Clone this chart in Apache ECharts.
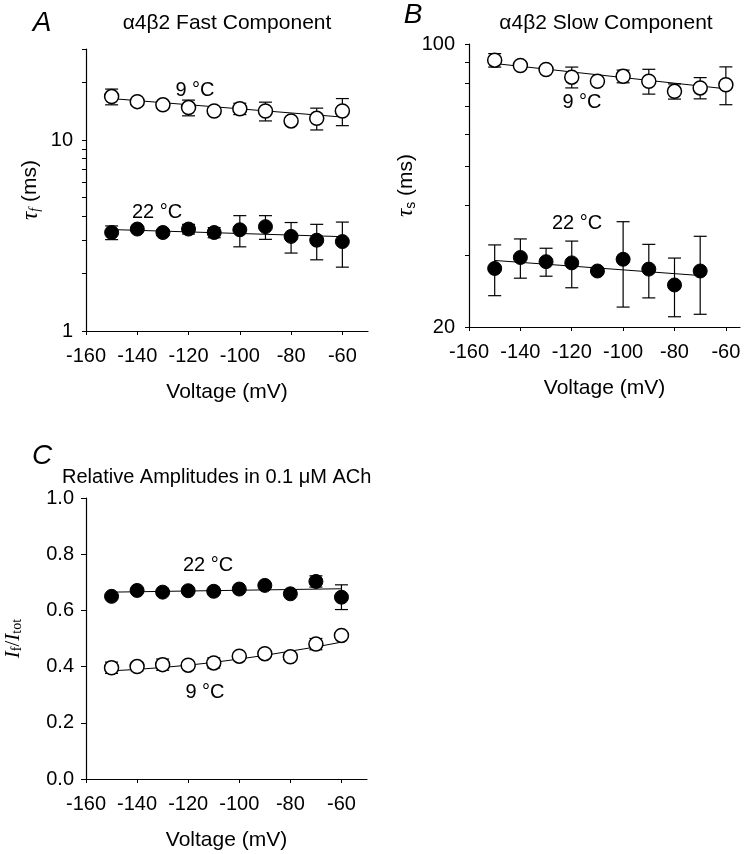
<!DOCTYPE html>
<html>
<head>
<meta charset="utf-8">
<script src="https://cdn.jsdelivr.net/npm/echarts@6/dist/echarts.min.js"></script>
<style>
  html, body { margin: 0; padding: 0; background: #fff; }
  #main { width: 745px; height: 854px; }
</style>
</head>
<body>
<div id="main"></div>
<script>
// membrane voltage (mV) of each point
const voltage = [-150, -140, -130, -120, -110, -100, -90, -80, -70, -60];
const voltage22s = [-150, -140, -130, -120, -110, -100, -90, -80, -70];

// A: fast time constant (ms) and error
const fastTau9 = [16.9, 15.9, 15.3, 14.8, 14.2, 14.6, 14.2, 12.6, 13.0, 14.2];
const fastErr9 = [1.6, 0, 0, 1.4, 0, 1.0, 1.6, 0, 1.7, 2.3];
const fastTau22 = [3.28, 3.42, 3.28, 3.42, 3.28, 3.39, 3.52, 3.13, 2.99, 2.94];
const fastErr22 = [0.27, 0.1, 0.12, 0.2, 0.2, 0.63, 0.5, 0.57, 0.63, 0.78];

// B: slow time constant (ms) and error
const slowTau9 = [91.2, 88.5, 86.5, 82.8, 80.9, 83.2, 80.9, 76.4, 77.9, 79.3];
const slowErr9 = [3.5, 2, 0, 4.9, 0, 3, 5.7, 3.3, 4.7, 8.5];
const slowTau22 = [27.9, 29.7, 29.0, 28.8, 27.5, 29.4, 27.8, 25.4, 27.5];
const slowErr22 = [4, 3.3, 2.3, 3.8, 0, 7, 4.2, 4.2, 6];

// C: relative amplitude If/Itot and error
const ampl22 = [0.65, 0.671, 0.665, 0.67, 0.668, 0.676, 0.689, 0.659, 0.703, 0.647];
const amplErr22 = [0, 0, 0, 0, 0, 0, 0, 0, 0.02, 0.044];
const ampl9 = [0.396, 0.40, 0.407, 0.405, 0.413, 0.437, 0.446, 0.435, 0.48, 0.511];
const amplErr9 = [0.02, 0.015, 0.02, 0.01, 0.018, 0, 0, 0.012, 0.02, 0];

// fitted lines
const fitVoltage = [-150, -60];
const fitVoltage22s = [-150, -70];
const fastFit9 = [16.5, 13.2];
const fastFit22 = [3.40, 3.12];
const slowFit9 = [89.5, 77.5];
const slowFit22 = [29.2, 26.8];
const amplFit22 = [0.665, 0.677];
const amplFit9 = [0.385, 0.39, 0.397, 0.405, 0.415, 0.427, 0.44, 0.455, 0.47, 0.487];

// ticks
const xTicks = [-160, -140, -120, -100, -80, -60];
const aLabels = [1, 10];
const aTicks = [1, 2, 3, 4, 5, 6, 7, 8, 9, 10, 20, 30];
const bLabels = [20, 100];
const bTicks = [20, 30, 40, 50, 60, 70, 80, 90, 100];

const FONT = 'Liberation Sans, Arial, sans-serif';
const SERIF = 'Liberation Serif, Times New Roman, serif';

let chart = echarts.init(document.getElementById('main'), null, { renderer: 'canvas' });

function zip(xs, ys, es) {
  return xs.map((x, i) => es ? [x, ys[i], es[i]] : [x, ys[i]]);
}

function errRender(params, api) {
  const x = api.value(0), y = api.value(1), e = api.value(2);
  if (!e) return { type: 'group', children: [] };
  const hi = api.coord([x, y + e]);
  const lo = api.coord([x, y - e]);
  const w = 6.5;
  const style = { stroke: '#000', lineWidth: 1.2 };
  return {
    type: 'group',
    children: [
      { type: 'line', shape: { x1: hi[0], y1: hi[1], x2: lo[0], y2: lo[1] }, style: style },
      { type: 'line', shape: { x1: hi[0] - w, y1: hi[1], x2: hi[0] + w, y2: hi[1] }, style: style },
      { type: 'line', shape: { x1: lo[0] - w, y1: lo[1], x2: lo[0] + w, y2: lo[1] }, style: style }
    ]
  };
}

function group(idx, xs, ys, es, fx, fy, filled) {
  return [
    {
      type: 'line', xAxisIndex: idx, yAxisIndex: idx, data: zip(fx, fy),
      symbol: 'none', smooth: false, z: 2, silent: true,
      lineStyle: { color: '#000', width: 1 }
    },
    {
      type: 'custom', xAxisIndex: idx, yAxisIndex: idx, data: zip(xs, ys, es),
      renderItem: errRender, encode: { x: 0, y: 1 }, z: 3, silent: true
    },
    {
      type: 'scatter', xAxisIndex: idx, yAxisIndex: idx, data: zip(xs, ys),
      symbol: 'circle', symbolSize: 14, z: 4, silent: true,
      itemStyle: filled
        ? { color: '#000', borderColor: '#000', borderWidth: 1, opacity: 1 }
        : { color: '#fff', borderColor: '#000', borderWidth: 1.5, opacity: 1 }
    }
  ];
}

const axisLine = { show: true, lineStyle: { color: '#000', width: 1.2 } };

function xAxis(idx, max) {
  return {
    gridIndex: idx, type: 'value', min: -160, max: max,
    name: 'Voltage (mV)', nameLocation: 'middle', nameGap: 51,
    nameTextStyle: { fontFamily: FONT, fontSize: 21, color: '#000' },
    axisLine: axisLine,
    axisTick: { customValues: xTicks, length: 4, lineStyle: { color: '#000' } },
    axisLabel: { customValues: xTicks, margin: 15, fontFamily: FONT, fontSize: 20, color: '#000' },
    splitLine: { show: false }
  };
}

function txt(x, y, text, font, align) {
  return {
    type: 'text', x: x, y: y,
    style: { text: text, font: font, fill: '#000', textAlign: align || 'center', textVerticalAlign: 'middle' }
  };
}

const option = {
  animation: false,
  backgroundColor: '#fff',
  grid: [
    { left: 86, top: 49, width: 282, height: 282 },
    { left: 469, top: 44, width: 271, height: 283 },
    { left: 86, top: 498, width: 281, height: 281 }
  ],
  xAxis: [xAxis(0, -50), xAxis(1, -54.5), xAxis(2, -50)],
  yAxis: [
    {
      gridIndex: 0, type: 'log', logBase: 10, min: 1, max: 30,
      name: '{t|τ}{s|f} (ms)', nameLocation: 'middle', nameGap: 44,
      nameTextStyle: {
        fontFamily: FONT, fontSize: 21, color: '#000',
        rich: {
          t: { fontFamily: SERIF, fontStyle: 'italic', fontSize: 23, color: '#000' },
          s: { fontFamily: SERIF, fontStyle: 'italic', fontSize: 14, color: '#000', verticalAlign: 'bottom', padding: [8, 0, 0, 0] }
        }
      },
      axisLine: axisLine,
      axisTick: { customValues: aTicks, length: 4, lineStyle: { color: '#000' } },
      axisLabel: { customValues: aLabels, margin: 13, fontFamily: FONT, fontSize: 20, color: '#000' },
      splitLine: { show: false }
    },
    {
      gridIndex: 1, type: 'log', logBase: 10, min: 20, max: 100,
      name: '{t|τ}{s|s} (ms)', nameLocation: 'middle', nameGap: 34,
      nameTextStyle: {
        fontFamily: FONT, fontSize: 21, color: '#000',
        rich: {
          t: { fontFamily: SERIF, fontStyle: 'italic', fontSize: 23, color: '#000' },
          s: { fontFamily: FONT, fontSize: 14, color: '#000', verticalAlign: 'bottom', padding: [8, 0, 0, 0] }
        }
      },
      axisLine: axisLine,
      axisTick: { customValues: bTicks, length: 4, lineStyle: { color: '#000' } },
      axisLabel: { customValues: bLabels, margin: 14, fontFamily: FONT, fontSize: 20, color: '#000' },
      splitLine: { show: false }
    },
    {
      gridIndex: 2, type: 'value', min: 0, max: 1, interval: 0.2,
      name: '{i|I}{s|f}{n|/}{i|I}{s|tot}', nameLocation: 'middle', nameGap: 62,
      nameTextStyle: {
        fontFamily: SERIF, fontSize: 21, color: '#000',
        rich: {
          i: { fontFamily: SERIF, fontStyle: 'italic', fontSize: 21, color: '#000' },
          n: { fontFamily: SERIF, fontSize: 21, color: '#000' },
          s: { fontFamily: SERIF, fontSize: 14, color: '#000', verticalAlign: 'bottom', padding: [7, 0, 0, 0] }
        }
      },
      axisLine: axisLine,
      axisTick: { length: 5, lineStyle: { color: '#000' } },
      axisLabel: {
        margin: 12, fontFamily: FONT, fontSize: 20, color: '#000',
        formatter: v => v.toFixed(1)
      },
      splitLine: { show: false }
    }
  ],
  graphic: [
    txt(42, 23, 'A', 'italic 28px ' + FONT),
    txt(227, 23, 'α4β2 Fast Component', '21px ' + FONT),
    txt(413, 15, 'B', 'italic 28px ' + FONT),
    txt(606, 23, 'α4β2 Slow Component', '21px ' + FONT),
    txt(42, 456, 'C', 'italic 28px ' + FONT),
    txt(62, 477, 'Relative Amplitudes in 0.1 μM ACh', '20px ' + FONT, 'left'),
    txt(195, 90, '9 °C', '20px ' + FONT),
    txt(157, 212, '22 °C', '20px ' + FONT),
    txt(582, 102, '9 °C', '20px ' + FONT),
    txt(577, 223, '22 °C', '20px ' + FONT),
    txt(208, 565, '22 °C', '20px ' + FONT),
    txt(205, 692, '9 °C', '20px ' + FONT)
  ],
  series: [].concat(
    group(0, voltage, fastTau9, fastErr9, fitVoltage, fastFit9, false),
    group(0, voltage, fastTau22, fastErr22, fitVoltage, fastFit22, true),
    group(1, voltage, slowTau9, slowErr9, fitVoltage, slowFit9, false),
    group(1, voltage22s, slowTau22, slowErr22, fitVoltage22s, slowFit22, true),
    group(2, voltage, ampl22, amplErr22, fitVoltage, amplFit22, true),
    group(2, voltage, ampl9, amplErr9, voltage, amplFit9, false)
  )
};

chart.setOption(option);
</script>
</body>
</html>
